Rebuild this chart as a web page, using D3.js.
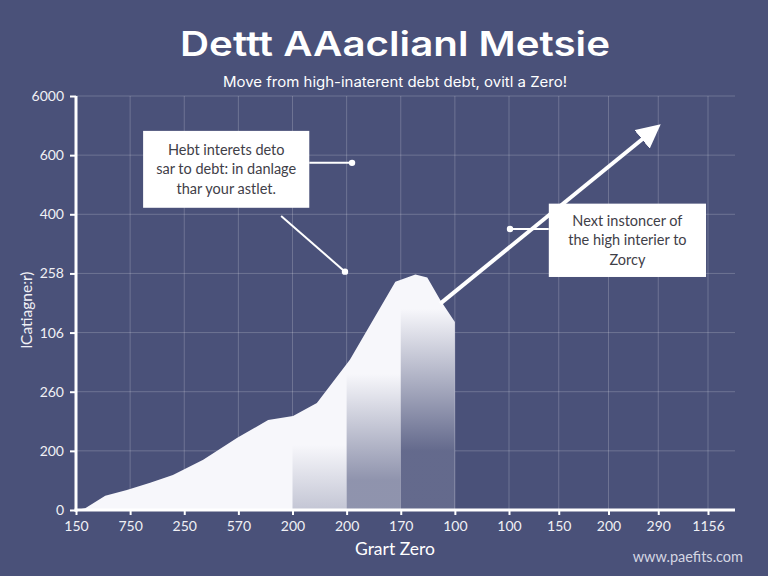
<!DOCTYPE html>
<html>
<head>
<meta charset="utf-8">
<script src="https://cdn.jsdelivr.net/npm/d3@7"></script>
<style>
html, body { margin: 0; padding: 0; background: #4a5179; }
svg { display: block; font-family: Lato, "Open Sans", sans-serif; }
</style>
</head>
<body>
<div id="chart"></div>
<script>
// tick labels as printed on the chart
const xTickLabels = ["150", "750", "250", "570", "200", "200", "170", "100", "100", "150", "200", "290", "1156"];
const yTickLabels = ["0", "200", "260", "106", "258", "400", "600", "6000"];

// outline of the white area (x = tick index, y = grid units)
const curveIdx = [0, 0.17, 0.54, 0.94, 1.37, 1.79, 2.35, 2.98, 3.55, 4.01, 4.45, 5.06, 5.9, 6.27, 6.49, 6.73, 7, 7];
const curveVal = [0, 0.03, 0.24, 0.34, 0.46, 0.59, 0.85, 1.22, 1.52, 1.59, 1.81, 2.54, 3.86, 3.98, 3.93, 3.55, 3.18, 0];

// shaded columns inside the area
const shadeBands = [4, 5, 6];
const shadeTop = [1.1, 2.3, 3.4];
const shadeFull = [0, 0.5, 1.0];
const shadeStrength = [0.3, 0.6, 0.85];

const callout1Lines = ["Hebt interets deto", "sar to debt: in danlage", "thar your astlet."];
const callout2Lines = ["Next instoncer of", "the high interier to", "Zorcy"];

const W = 768, H = 576;
const bg = "#4a5179";

const svg = d3.select("#chart").append("svg")
    .attr("width", W).attr("height", H);

svg.append("rect").attr("width", W).attr("height", H).attr("fill", bg);

const x = d3.scaleLinear().domain([0, 8, 12]).range([76, 509, 708]);
const y = d3.scaleLinear().domain([0, 7]).range([510, 96]);
const xEnd = 735;

// title (the original face is a wide geometric sans, so stretch to its width)
svg.append("text")
    .attr("x", 395).attr("y", 56)
    .attr("text-anchor", "middle")
    .attr("fill", "#ffffff")
    .attr("font-family", "Inter, Lato, sans-serif")
    .attr("font-size", 34).attr("font-weight", 600)
    .attr("textLength", 430).attr("lengthAdjust", "spacingAndGlyphs")
    .text("Dettt AAaclianl Metsie");

svg.append("text")
    .attr("x", 395).attr("y", 87)
    .attr("text-anchor", "middle")
    .attr("fill", "#ffffff")
    .attr("font-family", "Inter, Lato, sans-serif")
    .attr("font-size", 14)
    .attr("textLength", 344).attr("lengthAdjust", "spacingAndGlyphs")
    .text("Move from high-inaterent debt debt, ovitl a Zero!");

// grid
const grid = svg.append("g").attr("stroke", "rgba(255,255,255,0.2)").attr("stroke-width", 1);
grid.selectAll("line.v").data(d3.range(1, xTickLabels.length)).enter().append("line")
    .attr("x1", d => x(d)).attr("x2", d => x(d))
    .attr("y1", y(7)).attr("y2", y(0));
grid.selectAll("line.h").data(d3.range(1, yTickLabels.length)).enter().append("line")
    .attr("x1", x(0)).attr("x2", xEnd)
    .attr("y1", d => y(d)).attr("y2", d => y(d));

// area
const pts = curveIdx.map((d, i) => [d, curveVal[i]]);
const area = d3.area()
    .x(d => x(d[0]))
    .y0(y(0))
    .y1(d => y(d[1]));

const defs = svg.append("defs");
defs.append("clipPath").attr("id", "area-clip")
    .append("path").attr("d", area(pts));

svg.append("path")
    .attr("d", area(pts))
    .attr("fill", "#f7f7fb");

const shade = svg.append("g").attr("clip-path", "url(#area-clip)");
shadeBands.forEach((b, i) => {
    const g = defs.append("linearGradient")
        .attr("id", "shade-" + i)
        .attr("gradientUnits", "userSpaceOnUse")
        .attr("x1", 0).attr("x2", 0)
        .attr("y1", y(shadeTop[i])).attr("y2", y(shadeFull[i]));
    g.append("stop").attr("offset", 0).attr("stop-color", bg).attr("stop-opacity", 0);
    g.append("stop").attr("offset", 1).attr("stop-color", bg).attr("stop-opacity", shadeStrength[i]);
    shade.append("rect")
        .attr("x", x(b)).attr("width", x(b + 1) - x(b))
        .attr("y", y(shadeTop[i] + 0.6)).attr("height", y(0) - y(shadeTop[i] + 0.6))
        .attr("fill", "url(#shade-" + i + ")");
});

// axes
const yAxis = svg.append("g")
    .attr("transform", `translate(${x(0)},0)`)
    .call(d3.axisLeft(y).tickValues(d3.range(yTickLabels.length))
        .tickFormat(i => yTickLabels[i]).tickSize(6).tickPadding(6));
const xAxis = svg.append("g")
    .attr("transform", `translate(0,${y(0)})`)
    .call(d3.axisBottom(x).tickValues(d3.range(xTickLabels.length))
        .tickFormat(i => xTickLabels[i]).tickSize(5).tickPadding(6));
[xAxis, yAxis].forEach(a => {
    a.select(".domain").remove();
    a.selectAll(".tick line").attr("stroke", "#ffffff").attr("stroke-width", 2);
    a.selectAll(".tick text").attr("fill", "#f0f0f5").attr("font-size", 14)
        .attr("font-family", "Lato, 'Open Sans', sans-serif");
});

svg.append("line")
    .attr("x1", x(0)).attr("x2", x(0))
    .attr("y1", y(7)).attr("y2", y(0) + 1.5)
    .attr("stroke", "#ffffff").attr("stroke-width", 3);
svg.append("line")
    .attr("x1", x(0) - 1.5).attr("x2", xEnd)
    .attr("y1", y(0)).attr("y2", y(0))
    .attr("stroke", "#ffffff").attr("stroke-width", 3);

// axis titles
svg.append("text")
    .attr("transform", `translate(28,310) rotate(-90)`)
    .attr("text-anchor", "middle")
    .attr("dominant-baseline", "middle")
    .attr("fill", "#f0f0f5").attr("font-size", 15.5)
    .text("lCatiagne:r)");

svg.append("text")
    .attr("x", 395).attr("y", 555)
    .attr("text-anchor", "middle")
    .attr("fill", "#ffffff").attr("font-size", 17.5)
    .text("Grart Zero");

svg.append("text")
    .attr("x", 743).attr("y", 562)
    .attr("text-anchor", "end")
    .attr("fill", "#d4d6e2").attr("font-size", 14.5)
    .text("www.paefits.com");

// big arrow
defs.append("marker")
    .attr("id", "arrowhead")
    .attr("viewBox", "0 -5 10 10")
    .attr("refX", 6).attr("refY", 0)
    .attr("markerWidth", 6).attr("markerHeight", 6)
    .attr("orient", "auto")
    .append("path").attr("d", "M0,-5L10,0L0,5Z").attr("fill", "#ffffff");

svg.append("line")
    .attr("x1", x(6.73)).attr("y1", y(3.49))
    .attr("x2", x(10.9)).attr("y2", y(6.42))
    .attr("stroke", "#ffffff").attr("stroke-width", 4)
    .attr("marker-end", "url(#arrowhead)");

// callouts
function connector(x1, y1, x2, y2) {
    svg.append("line")
        .attr("x1", x(x1)).attr("y1", y(y1))
        .attr("x2", x(x2)).attr("y2", y(y2))
        .attr("stroke", "#ffffff").attr("stroke-width", 2);
}
function dot(cx, cy) {
    svg.append("circle").attr("cx", x(cx)).attr("cy", y(cy)).attr("r", 3.2).attr("fill", "#ffffff");
}
function callout(x0, x1, y0, y1, lines) {
    svg.append("rect")
        .attr("x", x(x0)).attr("y", y(y0))
        .attr("width", x(x1) - x(x0)).attr("height", y(y1) - y(y0))
        .attr("fill", "#ffffff");
    const cx = (x(x0) + x(x1)) / 2;
    const cy = (y(y0) + y(y1)) / 2;
    svg.append("g").selectAll("text").data(lines).enter().append("text")
        .attr("x", cx)
        .attr("y", (d, i) => cy + (i - (lines.length - 1) / 2) * 19.5)
        .attr("dy", "0.35em")
        .attr("text-anchor", "middle")
        .attr("fill", "#3f4048").attr("font-size", 14.5)
        .text(d => d);
}

connector(4.31, 5.87, 5.10, 5.87);
dot(5.10, 5.87);
connector(3.79, 4.97, 4.97, 4.03);
dot(4.97, 4.03);
callout(1.24, 4.31, 6.41, 5.11, callout1Lines);

connector(8.02, 4.75, 8.80, 4.75);
dot(8.02, 4.75);
callout(8.80, 11.96, 5.18, 3.94, callout2Lines);
</script>
</body>
</html>
